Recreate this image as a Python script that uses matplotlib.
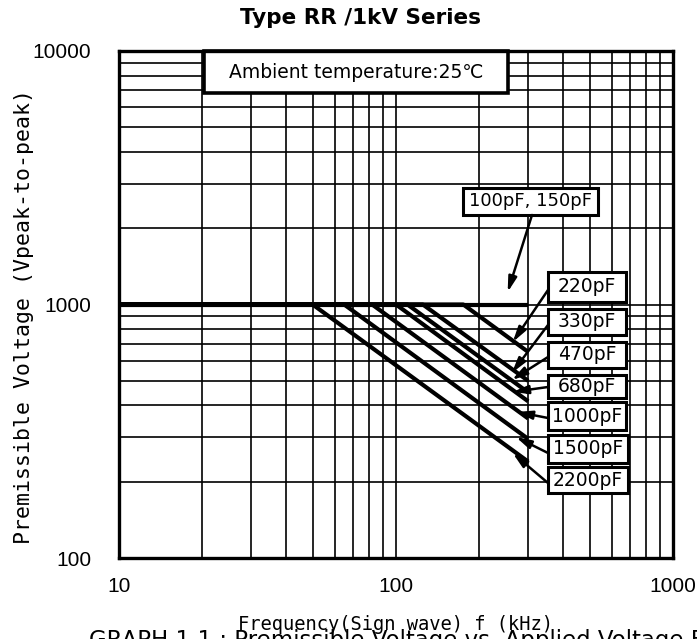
import matplotlib
matplotlib.use('Agg')
import matplotlib.pyplot as plt
from matplotlib.patches import Rectangle

# ---------------- data ----------------
capacitances = ['100pF, 150pF', '220pF', '330pF', '470pF', '680pF',
                '1000pF', '1500pF', '2200pF']
start_freq = 10          # kHz
end_freq = 300           # kHz
rated_volt = 1000        # Vp-p
knee_freq = [300, 175, 125, 110, 100, 82, 65, 50]        # kHz where derating starts
end_volt = [1000, 650, 500, 450, 415, 355, 295, 240]     # Vp-p at 300 kHz

x_ticks = [10, 100, 1000]
x_tick_labels = ['10', '100', '1000']
y_ticks = [100, 1000, 10000]
y_tick_labels = ['100', '1000', '10000']

# ---------------- fonts ----------------
mono = 'DejaVu Sans Mono'
sans = 'DejaVu Sans'
tickfont = 'Liberation Sans'

W, H = 697, 639
fig = plt.figure(figsize=(W / 100, H / 100), dpi=100)
L, R, T, B = 119, 673, 51, 558
ax = fig.add_axes([L / W, 1 - B / H, (R - L) / W, (B - T) / H])
ax.set_xscale('log')
ax.set_yscale('log')
ax.set_xlim(10, 1000)
ax.set_ylim(100, 10000)

ax.grid(True, which='both', color='black', lw=1.2, zorder=1)
ax.set_axisbelow(True)
for s in ax.spines.values():
    s.set_linewidth(2.4)
    s.set_zorder(6)

ax.set_xticks(x_ticks)
ax.set_xticklabels(x_tick_labels, fontfamily=tickfont, fontsize=15)
ax.set_yticks(y_ticks)
ax.set_yticklabels(y_tick_labels, fontfamily=tickfont, fontsize=15)
ax.tick_params(which='both', length=0)
ax.tick_params(axis='x', pad=14)
ax.tick_params(axis='y', pad=20)

# ---------------- lines ----------------
for kf, ev in zip(knee_freq, end_volt):
    ax.plot([start_freq, kf, end_freq], [rated_volt, rated_volt, ev],
            color='black', lw=3.0, solid_capstyle='butt', zorder=3)


def af(px, py):
    return ((px - L) / (R - L), (B - py) / (B - T))


def box(x0, y0, x1, y1, text, fs=13, lw=2.2, family=None):
    ax0, ay1 = af(x0, y0)
    ax1, ay0 = af(x1, y1)
    ax.add_patch(Rectangle((ax0, ay0), ax1 - ax0, ay1 - ay0, transform=ax.transAxes,
                           facecolor='white', edgecolor='black', lw=lw, zorder=4,
                           clip_on=False))
    ax.text((ax0 + ax1) / 2, (ay0 + ay1) / 2, text, transform=ax.transAxes,
            ha='center', va='center', fontsize=fs, zorder=5,
            fontfamily=family or sans)


# ambient box
box(204, 51, 508, 93, 'Ambient temperature:25\u2103', fs=13.5, lw=2.6)

# label boxes (pixel rectangles) and arrows
boxes_px = [(463, 188, 598, 215), (548, 272, 626, 302), (548, 309, 626, 335),
            (548, 342, 626, 368), (548, 375, 626, 398), (548, 402, 626, 430),
            (548, 435, 628, 463), (548, 467, 628, 493)]
tails_px = [(532, 215), (548, 290), (548, 325), (548, 357), (548, 387),
            (548, 418), (548, 453), (548, 483)]
tips = [(253, 1119), (264, 711), (262, 537), (262, 504), (264, 452),
        (273, 377), (271, 300), (264, 259)]

for lab, bx, tl, tp in zip(capacitances, boxes_px, tails_px, tips):
    box(*bx, lab, fs=13 if ',' in lab else 13.5)
    ax.annotate('', xy=tp, xycoords='data', xytext=af(*tl), textcoords='axes fraction',
                arrowprops=dict(arrowstyle='-|>,head_length=0.9,head_width=0.25',
                                color='black', lw=1.8, shrinkA=0, shrinkB=0),
                zorder=5)

# ---------------- texts ----------------
fig.text(361 / W, 1 - 18 / H, 'Type RR /1kV Series', ha='center', va='center',
         fontsize=15.5, fontweight='bold', fontfamily=sans)
fig.text(24 / W, 1 - 316 / H, 'Premissible Voltage (Vpeak-to-peak)', rotation=90,
         ha='center', va='center', fontsize=15.5, fontfamily=mono)
fig.text(395 / W, 1 - 624 / H, 'Frequency(Sign wave) f (kHz)', ha='center', va='center',
         fontsize=13.5, fontfamily=mono)
fig.text(89 / W, (H - 647) / H, 'GRAPH 1.1 : Premissible Voltage vs. Applied Voltage Frequency',
         ha='left', va='baseline', fontsize=16.5, fontfamily=sans)

fig.savefig('out.png', dpi=100)
